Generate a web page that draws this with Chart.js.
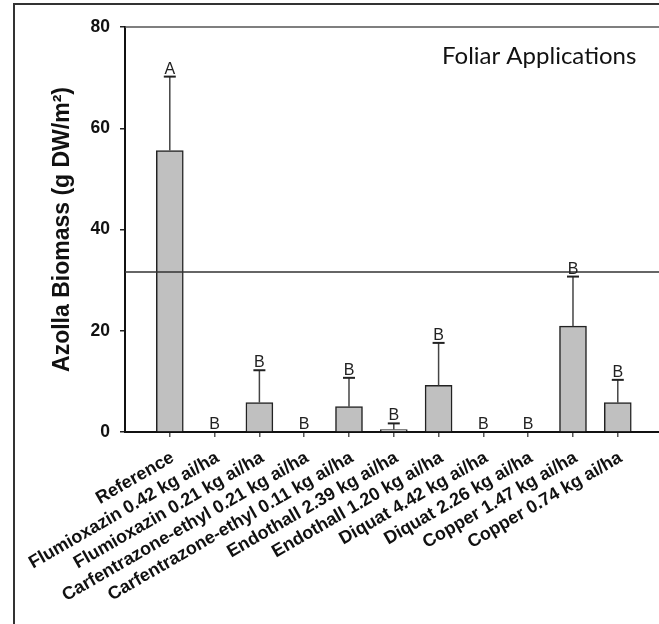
<!DOCTYPE html>
<html><head><meta charset="utf-8">
<script src="https://cdn.jsdelivr.net/npm/chart.js@4/dist/chart.umd.min.js"></script>
<style>html,body{margin:0;padding:0;background:#fff;overflow:hidden}</style>
</head><body><canvas id="c" width="659" height="624"></canvas>
<script>
const categories = ["Reference","Flumioxazin 0.42 kg ai/ha","Flumioxazin 0.21 kg ai/ha","Carfentrazone-ethyl 0.21 kg ai/ha","Carfentrazone-ethyl 0.11 kg ai/ha","Endothall 2.39 kg ai/ha","Endothall 1.20 kg ai/ha","Diquat 4.42 kg ai/ha","Diquat 2.26 kg ai/ha","Copper 1.47 kg ai/ha","Copper 0.74 kg ai/ha"];
const biomass = [55.6, 0, 5.8, 0, 5.0, 0.5, 9.2, 0, 0, 20.9, 5.8];
const errorUpper = [14.6, 0, 6.4, 0, 5.7, 1.2, 8.4, 0, 0, 9.8, 4.5];
const letters = ["A","B","B","B","B","B","B","B","B","B","B"];
const yTicks = [0, 20, 40, 60, 80];
const referenceLine = 31.6;
const panelLabel = "Foliar Applications";
const yTitle = "Azolla Biomass (g DW/m\u00B2)";

const extras = {
  id: 'extras',
  beforeDraw(chart) {
    const ctx = chart.ctx;
    ctx.save();
    ctx.fillStyle = '#fff';
    ctx.fillRect(0, 0, chart.width, chart.height);
    ctx.restore();
  },
  afterDatasetsDraw(chart) {
    const {ctx, chartArea: a, scales: {x, y}} = chart;
    ctx.save();
    ctx.strokeStyle = '#555';
    ctx.lineWidth = 1.5;
    ctx.beginPath(); ctx.moveTo(a.left, a.top); ctx.lineTo(a.right, a.top); ctx.stroke();
    const ry = y.getPixelForValue(referenceLine);
    ctx.strokeStyle = '#333';
    ctx.beginPath(); ctx.moveTo(a.left, ry); ctx.lineTo(a.right, ry); ctx.stroke();
    ctx.font = '16px "Liberation Sans", Arial, sans-serif';
    ctx.fillStyle = '#222';
    ctx.textAlign = 'center';
    ctx.textBaseline = 'alphabetic';
    biomass.forEach((m, i) => {
      const px = x.getPixelForValue(i);
      const y0 = y.getPixelForValue(m);
      const y1 = y.getPixelForValue(m + errorUpper[i]);
      if (errorUpper[i] > 0) {
        ctx.strokeStyle = '#444';
        ctx.lineWidth = 1.5;
        ctx.beginPath(); ctx.moveTo(px, y0); ctx.lineTo(px, y1); ctx.stroke();
        ctx.strokeStyle = '#222';
        ctx.lineWidth = 2;
        ctx.beginPath(); ctx.moveTo(px - 6, y1); ctx.lineTo(px + 6, y1); ctx.stroke();
      }
      ctx.fillText(letters[i], px, y1 - 3);
    });
    ctx.font = '24px Lato, "Open Sans", sans-serif';
    ctx.fillStyle = '#111';
    ctx.textAlign = 'left';
    ctx.fillText(panelLabel, 442, 64);
    ctx.strokeStyle = '#333';
    ctx.lineWidth = 2;
    ctx.beginPath(); ctx.moveTo(14, chart.height); ctx.lineTo(14, 4); ctx.lineTo(chart.width, 4); ctx.stroke();
    ctx.restore();
  }
};

new Chart(document.getElementById('c'), {
  type: 'bar',
  data: {
    datasets: [{
      data: biomass.map((v, i) => ({x: i, y: v})),
      backgroundColor: '#c0c0c0',
      borderColor: '#222',
      borderWidth: 1.5,
      borderSkipped: 'start',
      barThickness: 27
    }]
  },
  options: {
    responsive: false,
    animation: false,
    devicePixelRatio: 1,
    layout: {padding: {left: 0, top: 27, right: 0, bottom: 0}},
    plugins: {legend: {display: false}, tooltip: {enabled: false}},
    scales: {
      x: {
        type: 'linear',
        min: -1,
        max: 10.92,
        offset: false,
        afterBuildTicks: s => { s.ticks = categories.map((_, i) => ({value: i})); },
        afterFit: s => { s.height = 192; },
        grid: {drawOnChartArea: false, drawTicks: true, tickLength: 5, color: '#555', lineWidth: 1.5, offset: false},
        border: {display: true, color: '#111', width: 2},
        ticks: {
          autoSkip: false, minRotation: 30, maxRotation: 30, padding: 10, labelOffset: 3,
          font: {family: '"Liberation Sans", Arial, sans-serif', size: 18, weight: 'bold'},
          color: '#111',
          callback: v => categories[v] ?? ''
        }
      },
      y: {
        min: 0,
        max: 80,
        afterBuildTicks: s => { s.ticks = yTicks.map(v => ({value: v})); },
        afterFit: s => { s.width = 125; },
        grid: {drawOnChartArea: false, drawTicks: true, tickLength: 5, color: '#222', lineWidth: 1.5},
        border: {display: true, color: '#111', width: 2},
        ticks: {
          padding: 10,
          font: {family: '"Liberation Sans", Arial, sans-serif', size: 17.5, weight: 'bold'},
          color: '#111'
        },
        title: {
          display: true,
          text: yTitle,
          color: '#111',
          font: {family: '"Liberation Sans", Arial, sans-serif', size: 23, weight: 'bold'},
          padding: {top: 49, bottom: 0}
        }
      }
    }
  },
  plugins: [extras]
});
</script>
</body></html>
